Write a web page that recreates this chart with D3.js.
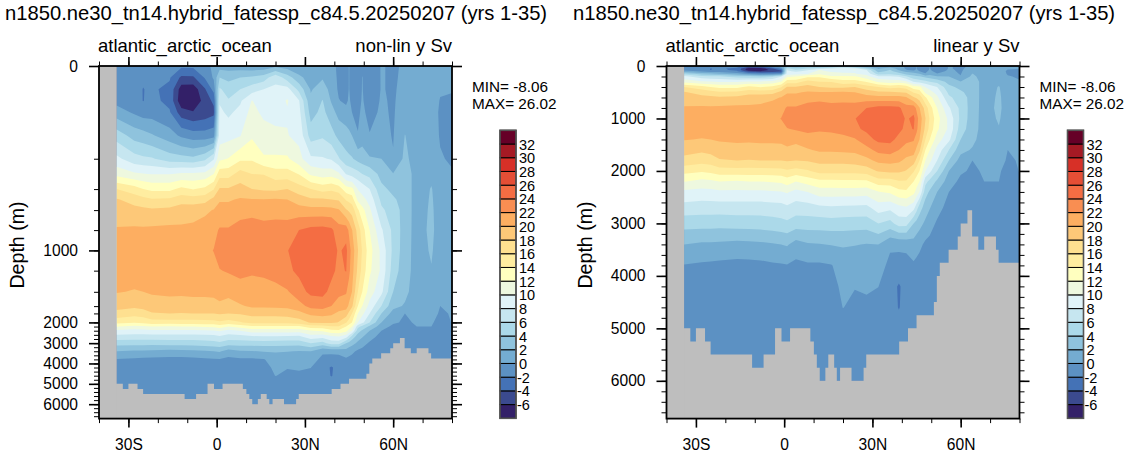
<!DOCTYPE html>
<html><head><meta charset="utf-8">
<script src="https://cdn.jsdelivr.net/npm/d3@7"></script>
<style>
html,body{margin:0;padding:0;background:#fff}
svg{display:block}
text{font-family:"Liberation Sans",Arial,sans-serif;fill:#000}
.domain{display:none}
</style></head><body><div id="c"></div>
<script>
const titleText = "n1850.ne30_tn14.hybrid_fatessp_c84.5.20250207 (yrs 1-35)";
const basinText = "atlantic_arctic_ocean";
const minText = "MIN= -8.06", maxText = "MAX= 26.02";
const levels = [-6,-4,-2,0,2,4,6,8,10,12,14,16,18,20,22,24,26,28,30,32];
const bandColors = ["#332068","#3b4a8f","#4472b6","#5c91c3","#74acd1","#8fc3dd","#abd9e9","#c6e6f0","#e0f3f8","#eef8df","#ffffbf","#ffeda0","#fee090","#fdc878","#fdae61","#f98e52","#f46d43","#e54e35","#d73027","#a51a24","#660027"];
const latTicks = [-30,0,30,60], latLabels = ["30S","0","30N","60N"];
const latMinor = [-40,-30,-20,-10,0,10,20,30,40,50,60,70,80];
const depthTicks = [0,1000,2000,3000,4000,5000,6000];
const depthMax = 6720;
const nonlinDepth = [0,200,400,600,800,1000,1200,1400,1600,1800,2000,3000,4000,5000,6000,6720];
const nonlinFrac  = [0,.2630,.3491,.4087,.4654,.5230,.5804,.6404,.6810,.7017,.7272,.7860,.8436,.9014,.9591,1];
const lats = [-34,-28,-25,-22,-16,-12,-8,-4,-1,1,4,8,12,16,20,24,28,32,36,39,41.5,44,45,46,48,49.5,52,56,60,64,68,73,76,80];
const depths = [0,25,50,75,100,150,200,300,400,500,600,800,1000,1200,1400,1600,1800,2000,2200,2400,2700,3000,3400,3800,4200,4600,5000,6000];
// one column per latitude, one value per depth (Sv)
const psi = [
[-1.5,-1.4,-1.2,-0.6,0.9,5.1,8.5,11.3,16,18.2,18.9,20.2,21,20.8,20.1,18.8,17.3,14.7,12.1,9.5,7.2,4.8,2,-0.1,-1,-0.8,-0.7,-0.7],
[-1.5,-1.4,-1.3,-1.1,-0.3,3.2,6.8,10.3,14.9,17.1,18.7,20.3,21,20.7,19.9,18.4,16.8,14.3,11.4,9.3,7,4.8,1.7,-0.3,-1,-1,-1,-1],
[-1.5,-1.7,-2.05,-2.05,-0.9,2.8,6.4,10.1,14,16.7,18.5,20.3,21,20.7,20,18.7,17,14.6,11.6,9.4,7,4.8,1.7,-0.4,-1.1,-1.1,-1.1,-1.1],
[-1.5,-1.6,-1.7,-1.5,-0.9,2.2,6.2,9.9,13.5,16.2,18.3,20.4,21,20.8,20.2,19.2,17.8,15.1,12,9.6,7,4.7,1.6,-0.5,-1.2,-1.2,-1.2,-1.2],
[-1.5,-1.8,-2.5,-2.5,-1.8,0.9,5,9.9,13.5,16.4,18.5,20.5,21,20.9,20.3,19.4,18,15.2,11.8,9.6,7,4.9,1.4,-0.6,-1.3,-1.3,-1.3,-1.3],
[-1.6,-4.4,-7,-7.5,-5.1,-0.4,4.8,10.3,14.5,17.2,19,20.4,21,20.9,20.3,19.3,17.9,15.2,12,9.6,7,4.9,1.5,-0.6,-1.5,-1.5,-1.5,-1.5],
[-1.5,-4.3,-7.2,-8,-5.8,-1.1,4.5,10.4,13.9,17,19.2,20.5,21.2,21,20.4,19.3,18,15.2,12,9.6,7,5,1.6,-0.5,-1.4,-1.4,-1.4,-1.4],
[-0.8,-1.8,-4.2,-5,-5.2,-1.1,5.5,10.6,14.5,17.2,19.6,20.9,21.6,21.2,20.4,19.3,18,15.3,12.2,9.8,7.1,5.2,1.8,-0.3,-1.2,-1.2,-1.2,-1.2],
[0.5,0.3,-1.3,-3.6,-4.5,-0.7,7.8,12,15.9,18.6,20.1,21.4,22.05,21.5,20.5,19.3,18,15.4,12.4,9.9,7.2,5.4,2,-0.2,-1,-1.1,-1.1,-1.1],
[1,4,6.3,7.8,8.4,9,11.5,15.2,18.2,19.8,20.7,22.2,23,21.9,20.8,19.6,18.2,15.7,13,10.2,7.6,5.6,2.2,-0.1,-0.9,-1.1,-1.1,-1.1],
[1,3.5,5,6.2,7.6,9.3,12.1,15.2,18.2,19.8,20.7,22.2,23.1,22.2,20.6,19.2,18,15.3,12,9.4,7,5,1.2,-0.5,-1,-1.1,-1.1,-1.1],
[0.8,4,6,7.7,8.6,9.9,13.6,16.8,18.8,20.2,21.4,22.6,23.3,22.5,21.2,19.8,18.2,15.8,12.8,10,7.1,5,1.8,-0.3,-1.2,-1.2,-1.2,-1.2],
[0.5,4.4,7,10.1,10.7,11.7,13.7,16,18,20.1,21.5,22.8,23.4,22.3,21,20.3,18.6,16.7,13.5,11,7.5,5,1.9,-0.3,-1,-1.1,-1.1,-1.1],
[0.6,5,8,8.7,9.5,11,12.2,15.9,17.7,20.1,21.2,22.7,23.4,22.5,21,20.3,18.6,16.7,13.5,11,7.7,5.1,2.1,-0.1,-0.8,-1.1,-1.1,-1.1],
[1.5,7.4,8.4,8.9,9.3,10.5,12.3,14.9,17.6,20.2,21.2,22.9,23.5,22.5,21.6,20.4,18.6,16.7,13.6,11,7.6,5,2.2,0.8,0.5,0.05,-1,-1],
[1,5,8.8,10.2,9.8,10.1,12.3,14.9,18,20,21,23,23.9,23.6,21.8,20.5,18.8,16.7,13.6,11,7.5,4.9,2.1,0.6,0.1,-0.5,-1.1,-1.1],
[0.1,2.6,5.3,8.1,8.6,9.4,10.7,13.9,16.9,19,20.9,24,25.2,24.4,23.2,21.3,19.4,17,13.6,10.8,7.4,4.9,1.9,0.5,0.2,-0.3,-1,-1],
[0.2,0.9,1.8,2.4,3.2,5.1,8.4,11.6,16,18.3,20.7,24.6,25.6,25.2,24.5,22.6,20.5,18.2,15.1,11.9,9,6,2,1,0.03,-0.6,-1.2,-1.2],
[0.6,1.8,3,4.1,4.6,5.7,8.2,11,15.2,18.3,20.7,24.7,25.7,25.3,24.6,22.9,20.7,18.5,15.1,12.3,8.5,5.3,0.4,-0.6,-1.2,-1.2,-1.2,-1.2],
[0.6,1,1.3,1.8,2.8,4.8,7.8,11.2,15.6,18,20.7,24.4,25.2,24.5,23.4,22,20.4,18.4,15.8,13.4,9.4,6.9,0.4,-0.7,-2.2,-2.1,-1.2,-1.2],
[-0.4,-0.4,-0.3,0.1,1.3,3.4,6.2,10.4,15,17.8,20.2,22.8,23.7,23.5,22.5,21.1,19.5,17.9,15.8,13.6,9.8,6.8,0.5,-0.7,-1.3,-1.3,-1.2,-1.2],
[-0.8,-0.9,-0.8,-0.4,0.7,2.9,4.6,7.9,12.9,15.8,18.2,23.1,24.5,24.1,22.2,20.9,19,16.2,14,12.6,8.7,4,1.2,-0.3,-1.3,-1.3,-1.3,-1.3],
[0.1,0.1,0.1,0.3,0.8,2.4,4.4,7.5,12.7,15.4,17.7,21.6,22.9,22.5,21.1,19.6,17.5,15.1,13,11.3,6.9,3.3,0.8,-0.5,-1.3,-1.3,-1.3,-1.3],
[-0.9,-1,-0.9,-0.5,0,2,4.2,7.2,12.6,15,17.2,20.1,21.2,20.8,20,18.4,16,14,12,10,5,2.7,0.5,-0.8,-1.3,-1.3,-1.3,-1.3],
[-0.8,-0.8,-0.9,-0.7,-0.4,0.1,3.3,6.7,9.9,11.5,14.3,17.2,18.1,17.5,16,14,12,10,6.7,4.8,3,1.6,-0.4,-1,-1.4,-1.4,-1.4,-1.4],
[-0.3,0.05,0.1,0.2,0.4,1.2,2.9,6,9.2,10.7,12.7,15,15.8,15.3,14,12,10.5,8.5,5.4,3.7,2.1,0.8,-0.6,-1.1,-1.3,-1.3,-1.3,-1.3],
[-1,-1.1,-1.2,-1,-0.6,0.1,2.2,5.4,8,9.3,10.4,12,12.8,12.4,11,9.3,8,6,3.6,2,0.8,-0.3,-1,-1.2,-1.2,-1.2,-1.2,-1.2],
[0.1,0.1,0.1,0.2,0.3,0.5,2,3.3,4.5,5.5,6.4,8.3,9.5,9.6,8.5,6,4,2,1,0,-0.8,-1.2,-1.3,-1.3,-1.3,-1.3,-1.3,-1.3],
[-0.2,-0.2,-0.2,-0.2,-0.2,-0.1,0.1,2.1,3.5,4.3,5,5.5,5.5,5,4,2.6,1.2,0.3,-0.5,-1,-1.3,-1.3,-1.3,-1.3,-1.3,-1.3,-1.3,-1.3],
[0.2,0.3,0.5,0.8,1.2,2.05,2.5,3.2,3.2,3.2,3.2,3,2.9,2.8,2.5,1.8,0,-0.3,-0.6,-0.8,-1,-1,-1,-1,-1,-1,-1,-1],
[0.5,0.6,0.7,0.8,0.8,1,1,1.1,1.1,1.1,1.1,1.2,1.2,1.2,1,0.8,0.5,0.2,0,-0.4,-0.6,-0.6,-0.6,-0.6,-0.6,-0.6,-0.6,-0.6],
[0.6,0.7,0.8,0.9,1,1.2,1.3,1.6,2.1,2.2,2.3,2.4,2.2,1.9,1.4,1,0.6,0.2,0,-0.5,-0.8,-0.8,-0.7,-0.7,-0.7,-0.7,-0.7,-0.7],
[0.3,0.3,0.2,-0.1,-0.3,-0.2,0.2,0.8,1,1.1,1.1,1.1,1,0.9,0.5,0,-0.2,-0.6,-0.8,-1,-1,-1,-0.9,-0.9,-0.9,-0.9,-0.9,-0.9],
[0.4,0.3,0.1,-0.2,-0.5,-0.5,-0.3,0.2,0.5,0.6,0.7,0.7,0.7,0.6,0.3,0.2,0.1,0.05,-0.1,-0.5,-0.7,-0.8,-0.8,-0.8,-0.8,-0.8,-0.8,-0.8]
];
// ocean floor: floorDepth[i] holds from floorLat[i] to floorLat[i+1]
const floorLat   = [-40,-31.9,-30,-26.9,-25,-10.9,-7,-3.1,-0.9,2,8.9,10.1,11.1,12.1,14,15,17,17.9,19,22.9,27,27.9,39.1,42.1,45,50.9,51.9,52.9,55.9,59,60,62.3,63.9,66,68,72,72.9,80];
const floorDepth = [5000,5250,5000,5250,5500,5750,5500,5000,5250,5000,5250,5500,5750,6000,5750,5500,5750,6000,5750,6000,5750,5500,5250,5000,4750,4500,4000,3750,3500,3250,3000,2750,3250,3500,3250,3500,3750,3750];

const W=1134,H=459, topY=66, botY=418.6, GRAY="#bebebe";
const svg=d3.select("#c").append("svg").attr("width",W).attr("height",H);

const nLat=lats.length,nDepth=depths.length;
const flat=[];
for(let j=0;j<nDepth;j++)for(let i=0;i<nLat;i++)flat.push(psi[i][j]);
const contours=d3.contours().size([nLat,nDepth]).thresholds(levels)(flat);
const latOf=d3.scaleLinear().domain(d3.range(nLat)).range(lats).clamp(true);
const depthOf=d3.scaleLinear().domain(d3.range(nDepth)).range(depths).clamp(true);

function panel(cfg){
  const g=svg.append("g");
  const L=cfg.left,R=cfg.left+353;
  const x=d3.scaleLinear().domain([-40,80]).range([L,R]);
  const y=cfg.y;
  const id="clip"+Math.round(cfg.left);
  g.append("clipPath").attr("id",id).append("rect").attr("x",L).attr("y",topY).attr("width",R-L).attr("height",botY-topY);
  const plot=g.append("g").attr("clip-path",`url(#${id})`);
  plot.append("rect").attr("x",L).attr("y",topY).attr("width",R-L).attr("height",botY-topY).attr("fill",GRAY);
  const pathOf=c=>c.coordinates.map(poly=>poly.map(ring=>
     "M"+ring.map(p=>x(latOf(p[0]-.5)).toFixed(2)+","+y(depthOf(p[1]-.5)).toFixed(2)).join("L")+"Z").join("")).join("");
  plot.append("rect").attr("x",x(lats[0])).attr("y",topY).attr("width",x(80)-x(lats[0])).attr("height",y(1500)-topY).attr("fill",bandColors[0]);
  plot.selectAll("path.band").data(contours).join("path").attr("class","band")
    .attr("d",pathOf).attr("fill",(d,i)=>bandColors[i+1]).attr("fill-rule","evenodd");
  const floor=d3.area().curve(d3.curveStepAfter).x(d=>x(d[0])).y0(botY+2).y1(d=>y(d[1]));
  plot.append("path").attr("d",floor(floorLat.map((v,i)=>[v,floorDepth[i]]))).attr("fill",GRAY);
  plot.append("rect").attr("x",L).attr("y",topY).attr("width",x(lats[0])-L).attr("height",botY-topY).attr("fill",GRAY);

  // axes
  const fmtLat=d=>latLabels[latTicks.indexOf(d)];
  const ax=(axis,tx,ty,w)=>{const a=g.append("g").attr("transform",`translate(${tx},${ty})`).call(axis);
    a.selectAll("line").attr("stroke","#000").attr("stroke-width",w);return a;};
  const noLab=a=>a.selectAll("text").remove();
  noLab(ax(d3.axisBottom(x).tickValues(latMinor).tickSize(4.5).tickFormat(""),0,botY,1));
  noLab(ax(d3.axisTop(x).tickValues(latMinor).tickSize(4.5).tickFormat(""),0,topY,1));
  noLab(ax(d3.axisTop(x).tickValues(latTicks).tickSize(9).tickFormat(""),0,topY,1.6));
  const bot=ax(d3.axisBottom(x).tickValues(latTicks).tickSize(9).tickFormat(fmtLat).tickPadding(11),0,botY,1.6);
  bot.selectAll("text").attr("font-size",15.6).attr("font-family",'"Liberation Sans"').attr("fill","#000");
  noLab(ax(d3.axisLeft(y).tickValues(cfg.minor).tickSize(5).tickFormat(""),L,0,1));
  noLab(ax(d3.axisRight(y).tickValues(cfg.minor).tickSize(5).tickFormat(""),R,0,1));
  noLab(ax(d3.axisRight(y).tickValues(depthTicks).tickSize(10).tickFormat(""),R,0,1.6));
  const lft=ax(d3.axisLeft(y).tickValues(depthTicks).tickSize(10).tickFormat(d3.format("d")).tickPadding(11),L,0,1.6);
  lft.selectAll("text").attr("font-size",15.6).attr("font-family",'"Liberation Sans"').attr("fill","#000");
  g.append("rect").attr("x",L).attr("y",topY).attr("width",R-L).attr("height",botY-topY).attr("fill","none").attr("stroke","#000").attr("stroke-width",1.8);

  // texts
  g.append("text").attr("x",cfg.titleX).attr("y",20).attr("font-size",20.2).text(titleText);
  g.append("text").attr("x",L-1).attr("y",52).attr("font-size",18.5).text(basinText);
  g.append("text").attr("x",R).attr("y",52).attr("text-anchor","end").attr("font-size",18.5).text(cfg.label);
  g.append("text").attr("transform",`translate(${L-75},${245}) rotate(-90)`).attr("text-anchor","middle").attr("font-size",19.6).text("Depth (m)");
  g.append("text").attr("x",R+20).attr("y",92).attr("font-size",15.3).text(minText);
  g.append("text").attr("x",R+20).attr("y",108.5).attr("font-size",15.3).text(maxText);

  // legend
  const lx=R+48,lw=16;
  const ly=d3.scaleLinear().domain([0,bandColors.length]).range([418.3,130.3]);
  g.selectAll("rect.lb").data(bandColors).join("rect").attr("class","lb")
    .attr("x",lx).attr("y",(d,i)=>ly(i+1)).attr("width",lw).attr("height",(d,i)=>ly(i)-ly(i+1))
    .attr("fill",d=>d).attr("stroke","#000").attr("stroke-width",1);
  g.append("rect").attr("x",lx).attr("y",ly(bandColors.length)).attr("width",lw).attr("height",ly(0)-ly(bandColors.length))
    .attr("fill","none").attr("stroke","#555").attr("stroke-width",1.6);
  g.selectAll("text.ll").data(levels).join("text").attr("class","ll")
    .attr("x",lx+lw+1).attr("dx",d=>d<0?0:2).attr("y",(d,i)=>ly(i+1)+5.5).attr("font-size",14.5).text(d=>d);
}
const linearY=d3.scaleLinear().domain([0,depthMax]).range([topY,botY]);
const nonlinY=d3.scaleLinear().domain(nonlinDepth).range(nonlinFrac.map(f=>topY+f*(botY-topY)));
panel({left:99,titleX:5,label:"non-lin y Sv",y:nonlinY,minor:d3.range(0,6601,200)});
panel({left:666.5,titleX:573,label:"linear y Sv",y:linearY,minor:d3.range(0,6601,200)});
</script></body></html>
